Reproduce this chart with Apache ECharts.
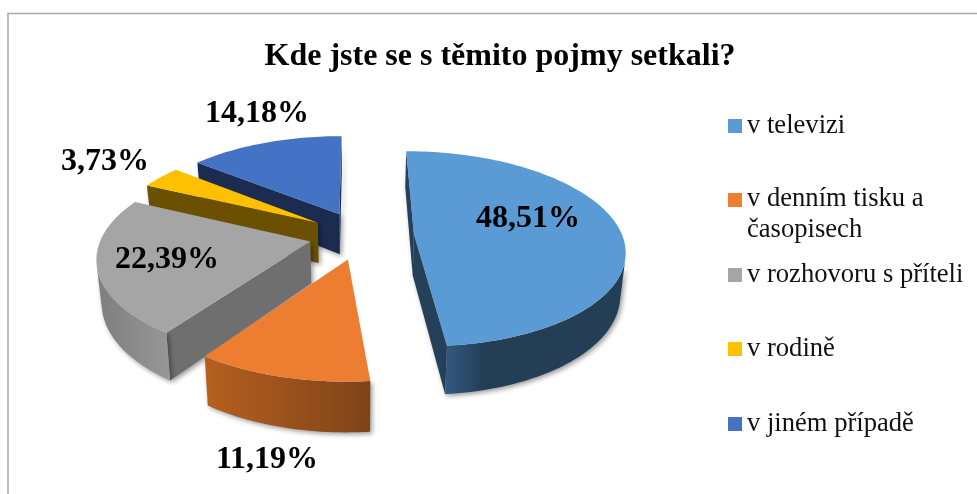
<!DOCTYPE html>
<html><head><meta charset="utf-8">
<style>html,body{margin:0;padding:0;background:#fff}#c{width:977px;height:494px}</style>
<script src="https://cdn.jsdelivr.net/npm/echarts@6/dist/echarts.min.js"></script>
</head><body><div id="c"></div>
<script>
const titleText = 'Kde jste se s těmito pojmy setkali?';
const categories = ['v televizi', 'v denním tisku a\nčasopisech', 'v rozhovoru s příteli', 'v rodině', 'v jiném případě'];
const values = [48.51, 11.19, 22.39, 3.73, 14.18];

// styling
const topColors = ['#5B9BD5', '#ED7D31', '#A5A5A5', '#FFC000', '#4472C4'];
const wallColors = ['#254059', '#8A4A1C', '#6F6F6F', '#6A5000', '#1B2C50'];
const rimFrom = ['#33597F', '#B5601F', '#7E7E7E', '#8A6800', '#2A4577'];
const rimTo = ['#233E55', '#7F4318', '#979797', '#6A5000', '#1B2C50'];
const labelAt = [[528, 219], [267, 460], [167, 260], [105, 162], [257, 114]];
const legendTop = [110.5, 184, 259.5, 333.5, 408.5];
const drawOrder = [4, 3, 2, 1, 0];

// 3D projection of the exploded pie
const VX = 355.7, HORIZON = -400, UK = 3.05, VK = 4219, K0 = 0.001577;
const EXPLODE = 0.252, U0 = 0.028, V0 = 0.0118, DROP = 0.065, TAPER = 0.98;
function project(u, v, low) {
  const s = 1 / (K0 - v / VK);
  const x = s * u / UK;
  return low ? [VX + x * TAPER, HORIZON + s * (1 + DROP)] : [VX + x, HORIZON + s];
}
const total = values.reduce((a, b) => a + b, 0);
function sliceGeom(i) {
  let before = 0;
  for (let k = 0; k < i; k++) before += values[k];
  const a0 = before / total * Math.PI * 2, a1 = (before + values[i]) / total * Math.PI * 2;
  const m = (a0 + a1) / 2;
  const cu = U0 + EXPLODE * Math.sin(m), cv = V0 - EXPLODE * Math.cos(m);
  const n = Math.max(8, Math.ceil((a1 - a0) * 40));
  const arc = [];
  for (let j = 0; j <= n; j++) {
    const a = a0 + (a1 - a0) * j / n;
    arc.push([cu + Math.sin(a), cv - Math.cos(a)]);
  }
  return { cu, cv, arc };
}
function poly(points, style) {
  return { type: 'polygon', shape: { points }, style, silent: true };
}
// a side face is seen when its quad winds the visible way on screen
function faces(A, B) {
  const q = [project(A[0], A[1], false), project(B[0], B[1], false), project(B[0], B[1], true), project(A[0], A[1], true)];
  let area = 0;
  for (let k = 0; k < 4; k++) {
    const p = q[k], r = q[(k + 1) % 4];
    area += p[0] * r[1] - r[0] * p[1];
  }
  return area < 0;
}
function renderSlice(i) {
  const g = sliceGeom(i);
  const C = [g.cu, g.cv];
  const hi = p => project(p[0], p[1], false), lo = p => project(p[0], p[1], true);
  const first = g.arc[0], last = g.arc[g.arc.length - 1];
  const shadow = { shadowBlur: 5, shadowColor: 'rgba(0,0,0,0.4)', shadowOffsetX: 2, shadowOffsetY: 2 };
  const children = [];
  // straight walls, only those turned to the viewer
  const wall = (A, B) => poly([hi(A), hi(B), lo(B), lo(A)], Object.assign({ fill: wallColors[i] }, shadow));
  if (faces(C, first)) children.push(wall(C, first));
  if (faces(last, C)) children.push(wall(last, C));
  // curved rim: contiguous runs of visible segments
  let run = [];
  const flush = () => {
    if (run.length > 1) {
      const pts = run.map(hi).concat(run.slice().reverse().map(lo));
      children.push(poly(pts, Object.assign({
        fill: new echarts.graphic.LinearGradient(0, 0, 1, 0, i === 0
          ? [{ offset: 0, color: rimFrom[i] }, { offset: 0.22, color: rimTo[i] }, { offset: 1, color: rimTo[i] }]
          : [{ offset: 0, color: rimFrom[i] }, { offset: 1, color: rimTo[i] }])
      }, shadow)));
    }
    run = [];
  };
  for (let j = 0; j < g.arc.length - 1; j++) {
    if (faces(g.arc[j], g.arc[j + 1])) {
      if (!run.length) run.push(g.arc[j]);
      run.push(g.arc[j + 1]);
    } else flush();
  }
  flush();
  // top face
  children.push(poly([hi(C)].concat(g.arc.map(hi)), { fill: topColors[i] }));
  // percentage label
  children.push({
    type: 'text', z2: 10, silent: true,
    style: {
      x: labelAt[i][0], y: labelAt[i][1],
      text: values[i].toFixed(2).replace('.', ',') + '%',
      fill: '#000', align: 'center', verticalAlign: 'middle',
      font: 'bold 32px "Liberation Serif"'
    }
  });
  return { type: 'group', children };
}
const series = drawOrder.map(i => ({
  type: 'custom', name: categories[i], coordinateSystem: 'none',
  itemStyle: { color: topColors[i] }, data: [values[i]], z: 2 + (4 - i), animation: false,
  renderItem: () => renderSlice(i)
}));
const legend = categories.map((name, i) => {
  const two = name.indexOf('\n') >= 0;
  return {
    data: [{ name, icon: two ? 'path://M0 0H14V14H0Z M0 44L0 44' : 'rect' }], orient: 'vertical',
    left: 728, top: legendTop[i], padding: 0, selectedMode: false,
    itemWidth: 14, itemHeight: two ? 44 : 14, itemGap: 0,
    itemStyle: { color: topColors[i], borderWidth: 0 },
    textStyle: { fontFamily: 'Liberation Serif', fontSize: 26.6, color: '#111', lineHeight: 31 }
  };
});
const chart = echarts.init(document.getElementById('c'), null, { renderer: 'canvas' });
chart.setOption({
  animation: false, backgroundColor: '#fff',
  title: { text: titleText, left: 495, top: 36, textAlign: 'center',
    textStyle: { fontFamily: 'Liberation Serif', fontWeight: 'bold', fontSize: 32, color: '#000' } },
  legend, series,
  graphic: [{ type: 'rect', silent: true, shape: { x: 8, y: 13.5, width: 1100, height: 700 },
    style: { fill: 'none', stroke: '#A9A9A9', lineWidth: 1.5 } }]
});
</script></body></html>
